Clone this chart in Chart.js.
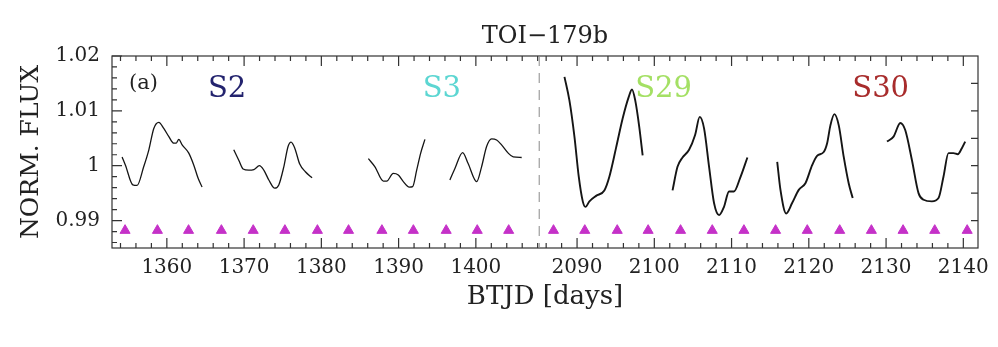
<!DOCTYPE html>
<html>
<head>
<meta charset="utf-8">
<script src="https://cdn.jsdelivr.net/npm/chart.js@4.4.1/dist/chart.umd.min.js"></script>
<style>
  body { margin: 0; background: #fff; }
  canvas { display: block; }
</style>
</head>
<body>
<canvas id="lc" width="998" height="347"></canvas>
<script>
// TOI-179b light curve, sectors 2/3 and 29/30 (BTJD, normalised flux)

// broken axis: left panel ends, right panel starts
const leftEnd = 1408.2;
const rightStart = 2085.1;
const xFrom = 1352.9;
const xTo = 2141.9;

const xMajorTicks = [1360, 1370, 1380, 1390, 1400, 2090, 2100, 2110, 2120, 2130, 2140];
const yMajorTicks = [0.99, 1.00, 1.01, 1.02];

// sector 2 (two orbits, null = data gap)
const s2Time = [1354.21, 1354.64, 1355.6, 1356.15, 1357.0, 1357.67, 1358.31, 1358.96, 1359.6, 1360.26, 1360.9, 1361.2, 1361.55, 1361.98, 1362.84, 1363.49, 1364.05, 1364.56,
  1366.6,
  1368.66, 1369.31, 1369.87, 1370.6, 1371.26, 1371.98, 1372.55, 1373.2, 1373.97, 1374.49, 1375.14, 1375.69, 1376.08, 1376.56, 1377.2, 1377.93, 1378.8];
const s2Flux = [1.0016, 1.0001, 0.9965, 0.9964, 0.9998, 1.0029, 1.0068, 1.0079, 1.0068, 1.0053, 1.0041, 1.0041, 1.0048, 1.0038, 1.0023, 1.0001, 0.9977, 0.9961,
  null,
  1.0029, 1.0010, 0.9994, 0.9992, 0.9993, 1.0000, 0.9992, 0.9974, 0.9959, 0.9965, 0.9998, 1.0035, 1.0043, 1.0032, 1.0003, 0.9989, 0.9978];

// sector 3
const s3Time = [1386.08, 1386.94, 1388.02, 1388.46, 1389.31, 1389.96, 1390.61, 1391.38, 1391.82, 1392.34, 1392.86, 1393.41,
  1395.0,
  1396.64, 1397.29, 1398.29, 1399.0, 1400.1, 1400.74, 1401.39, 1402.04, 1402.69, 1403.33, 1404.19, 1404.84, 1405.93];
const s3Flux = [1.0013, 0.9998, 0.9972, 0.9972, 0.9986, 0.9983, 0.9971, 0.9961, 0.9962, 0.9992, 1.0023, 1.0048,
  null,
  0.9974, 0.9995, 1.0024, 1.0004, 0.9971, 0.9998, 1.0035, 1.0049, 1.0047, 1.0038, 1.0023, 1.0016, 1.0015];

// sector 29
const s29Time = [2088.37, 2089.01, 2089.66, 2090.22, 2090.74, 2091.08, 2091.6, 2092.46, 2093.53, 2094.18, 2095.04, 2095.9, 2096.68, 2097.11, 2097.53, 2098.05, 2098.49,
  2100.4,
  2102.36, 2103.0, 2103.65, 2104.5, 2105.28, 2105.88, 2106.44, 2107.09, 2107.73, 2108.38, 2109.02, 2109.67, 2110.31, 2111.09, 2112.05];
const s29Flux = [1.0162, 1.0119, 1.0053, 0.9980, 0.9935, 0.9925, 0.9935, 0.9945, 0.9955, 0.9980, 1.0032, 1.0086, 1.0125, 1.0139, 1.0119, 1.0071, 1.0019,
  null,
  0.9955, 0.9998, 1.0015, 1.0029, 1.0056, 1.0089, 1.0068, 0.9998, 0.9932, 0.9910, 0.9925, 0.9953, 0.9953, 0.9977, 1.0015];

// sector 30
const s30Time = [2115.91, 2116.33, 2117.07, 2117.84, 2118.7, 2119.56, 2120.43, 2121.07, 2121.93, 2122.37, 2122.8, 2123.31, 2123.87, 2124.52, 2125.16, 2125.68,
  2128.0,
  2130.12, 2130.97, 2131.84, 2132.48, 2133.35, 2134.2, 2134.85, 2135.93, 2136.79, 2137.43, 2138.08, 2138.72, 2139.29, 2139.81, 2140.24];
const s30Flux = [1.0007, 0.9956, 0.9913, 0.9932, 0.9956, 0.9968, 1.0001, 1.0018, 1.0025, 1.0041, 1.0074, 1.0094, 1.0074, 1.0016, 0.9968, 0.9941,
  null,
  1.0044, 1.0053, 1.0078, 1.0065, 1.0010, 0.9950, 0.9938, 0.9935, 0.9941, 0.9980, 1.0023, 1.0023, 1.0021, 1.0032, 1.0044];

// predicted transits of the planet (magenta triangles)
const transitTimes = [1354.59, 1358.78, 1362.81, 1367.06, 1371.18, 1375.28, 1379.49, 1383.52, 1387.84, 1391.91, 1396.16, 1400.18, 1404.25,
  2086.95, 2091.0, 2095.2, 2099.2, 2103.4, 2107.5, 2111.6, 2115.7, 2119.8, 2124.0, 2128.1, 2132.2, 2136.3, 2140.5];
const transitLevel = 0.9882;

// sector labels
const sectorNames = ['S2', 'S3', 'S29', 'S30'];
const sectorColors = ['#23236e', '#5cd6d2', '#a4e064', '#a82c2c'];
const sectorLabelTime = [1367.8, 1395.6, 2101.2, 2129.3];
const sectorLabelFlux = 1.0125;

const gap = rightStart - leftEnd;
function mapX(t) { return t > leftEnd ? t - gap : t; }
function unmapX(v) { return v > leftEnd + 0.5 ? v + gap : v; }

function toPoints(times, fluxes) {
	return times.map((t, i) => ({ x: mapX(t), y: fluxes[i] }));
}

function curve(times, fluxes, width) {
	return {
		data: toPoints(times, fluxes),
		showLine: true,
		borderColor: '#151515',
		borderWidth: width,
		pointRadius: 0,
		cubicInterpolationMode: 'monotone',
		spanGaps: false
	};
}

// inward ticks, frame, break line and text labels
const frame = {
	id: 'frame',
	afterDatasetsDraw(chart) {
		const { ctx, chartArea: a, scales: { x, y } } = chart;
		ctx.save();
		ctx.strokeStyle = '#333';
		ctx.lineWidth = 1.2;
		ctx.strokeRect(a.left, a.top, a.right - a.left, a.bottom - a.top);

		ctx.beginPath();
		const panels = [[1354, 1408], [2086, 2140]];
		panels.forEach(([from, to]) => {
			for (let t = from; t <= to; t += 2) {
				const px = x.getPixelForValue(mapX(t));
				const len = t % 10 === 0 ? 10 : 5;
				ctx.moveTo(px, a.bottom); ctx.lineTo(px, a.bottom - len);
				ctx.moveTo(px, a.top); ctx.lineTo(px, a.top + len);
			}
		});
		for (let k = 0; k <= 17; k++) {
			const v = 0.986 + k * 0.002;
			const py = y.getPixelForValue(v);
			const len = k % 5 === 2 ? 10 : 5;
			ctx.moveTo(a.left, py); ctx.lineTo(a.left + len, py);
		}
		for (let k = 0; k <= 5; k++) {
			const py = y.getPixelForValue(0.99 + k * 0.005);
			ctx.moveTo(a.right, py); ctx.lineTo(a.right - 7, py);
		}
		ctx.stroke();

		// break between the two panels
		const bx = x.getPixelForValue(leftEnd);
		ctx.strokeStyle = '#8a8a8a';
		ctx.lineWidth = 1;
		ctx.setLineDash([10, 7]);
		ctx.beginPath();
		ctx.moveTo(bx, a.top); ctx.lineTo(bx, a.bottom);
		ctx.stroke();
		ctx.setLineDash([]);

		// title, centred over the plot box
		ctx.fillStyle = '#222';
		ctx.textAlign = 'center';
		ctx.textBaseline = 'middle';
		ctx.font = '24px "DejaVu Serif"';
		ctx.fillText('TOI\u2212179b', (a.left + a.right) / 2, a.top - 19);

		ctx.textBaseline = 'alphabetic';
		ctx.font = '21px "DejaVu Serif"';
		ctx.textAlign = 'left';
		ctx.fillText('(a)', x.getPixelForValue(1355.1), y.getPixelForValue(1.0139));

		ctx.font = '29px "DejaVu Serif"';
		ctx.textAlign = 'center';
		sectorNames.forEach((name, i) => {
			ctx.fillStyle = sectorColors[i];
			ctx.fillText(name, x.getPixelForValue(mapX(sectorLabelTime[i])), y.getPixelForValue(sectorLabelFlux));
		});
		ctx.restore();
	}
};

Chart.defaults.font.family = '"DejaVu Serif"';
Chart.defaults.color = '#222';

new Chart(document.getElementById('lc'), {
	type: 'scatter',
	data: {
		datasets: [
			curve(s2Time, s2Flux, 1.3),
			curve(s3Time, s3Flux, 1.3),
			curve(s29Time, s29Flux, 1.9),
			curve(s30Time, s30Flux, 1.9),
			{
				data: transitTimes.map(t => ({ x: mapX(t), y: transitLevel })),
				pointStyle: 'triangle',
				pointRadius: 5.8,
				backgroundColor: '#c531c8',
				borderColor: '#c531c8',
				borderWidth: 1
			}
		]
	},
	options: {
		responsive: false,
		animation: false,
		layout: { padding: { left: 0, right: 20, top: 56, bottom: 0 } },
		plugins: {
			legend: { display: false },
			tooltip: { enabled: false }
		},
		scales: {
			x: {
				type: 'linear',
				min: xFrom,
				max: mapX(xTo),
				afterBuildTicks: s => { s.ticks = xMajorTicks.map(t => ({ value: mapX(t) })); },
				afterFit: s => { s.height = 99; },
				grid: { display: false, drawTicks: false },
				border: { display: false },
				ticks: {
					autoSkip: false,
					maxRotation: 0,
					padding: 8,
					font: { size: 20 },
					callback: v => Math.round(unmapX(v))
				},
				title: {
					display: true,
					text: 'BTJD [days]',
					font: { size: 26 },
					padding: { top: 0, bottom: 34 }
				}
			},
			y: {
				min: 0.985,
				max: 1.02,
				afterBuildTicks: s => { s.ticks = yMajorTicks.map(v => ({ value: v })); },
				afterFit: s => { s.width = 112; },
				grid: { display: false, drawTicks: false },
				border: { display: false },
				ticks: {
					padding: 12,
					font: { size: 20 },
					callback: v => String(Number(v.toFixed(2)))
				},
				title: {
					display: true,
					text: 'NORM. FLUX',
					font: { size: 25 },
					padding: { top: 16, bottom: 0 }
				}
			}
		}
	},
	plugins: [frame]
});
</script>
</body>
</html>
